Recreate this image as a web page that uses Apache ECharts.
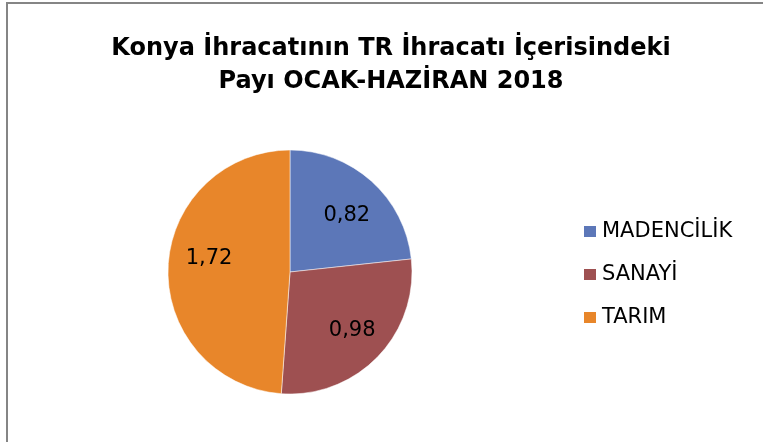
<!DOCTYPE html>
<html>
<head>
<meta charset="utf-8">
<script src="https://cdn.jsdelivr.net/npm/echarts@6/dist/echarts.min.js"></script>
<style>
    html, body { margin: 0; padding: 0; background: #fff; }
    #frame {
        position: absolute;
        left: 6px;
        top: 2px;
        width: 757px;
        height: 440px;
        border-left: 2px solid #858585;
        border-top: 2px solid #858585;
    }
    #chart { position: absolute; left: -8px; top: -4px; width: 763px; height: 442px; }
</style>
</head>
<body>
<div id="frame"><div id="chart"></div></div>
<script>
const titleLines = ['Konya İhracatının TR İhracatı İçerisindeki', 'Payı OCAK-HAZİRAN 2018'];
const categories = ['MADENCİLİK', 'SANAYİ', 'TARIM'];
const shares = [0.82, 0.98, 1.72];
const sliceColors = ['#5C77B8', '#9E5051', '#E8862A'];

const fontMain = '"DejaVu Sans", sans-serif';

// small nudges so the value labels sit where Excel's best-fit put them
const labelOffsets = [[0, 7], [1, 0], [4, -10]];

const pieData = categories.map((name, i) => ({
    name: name,
    value: shares[i],
    itemStyle: { color: sliceColors[i] }
}));

const chart = echarts.init(document.getElementById('chart'));
chart.setOption({
    backgroundColor: 'transparent',
    animation: false,
    title: {
        text: titleLines.join('\n'),
        left: 386,
        top: 27,
        textAlign: 'center',
        textStyle: {
            fontFamily: fontMain,
            fontWeight: 'bold',
            fontSize: 24,
            lineHeight: 33,
            color: '#000'
        }
    },
    legend: {
        orient: 'vertical',
        left: 577,
        top: 216,
        itemWidth: 14,
        itemHeight: 13,
        itemGap: 22,
        icon: 'rect',
        data: categories,
        textStyle: {
            fontFamily: fontMain,
            fontSize: 21,
            color: '#000'
        }
    },
    series: [
        {
            type: 'pie',
            center: [290, 272],
            radius: [0, 122],
            startAngle: 90,
            clockwise: true,
            silent: true,
            label: { show: false },
            labelLine: { show: false },
            itemStyle: { borderColor: '#fff', borderWidth: 0.5 },
            data: pieData
        },
        {
            // invisible ring used only to place the value labels further out
            type: 'pie',
            center: [290, 272],
            radius: [42, 122],
            startAngle: 90,
            clockwise: true,
            silent: true,
            legendHoverLink: false,
            itemStyle: { color: 'transparent' },
            label: {
                show: true,
                position: 'inside',
                fontFamily: fontMain,
                fontSize: 21,
                color: '#000',
                formatter: (p) => p.value.toFixed(2).replace('.', ',')
            },
            labelLine: { show: false },
            data: categories.map((name, i) => ({
                name: name + ' ',
                value: shares[i],
                label: { offset: labelOffsets[i] }
            }))
        }
    ]
});
</script>
</body>
</html>
